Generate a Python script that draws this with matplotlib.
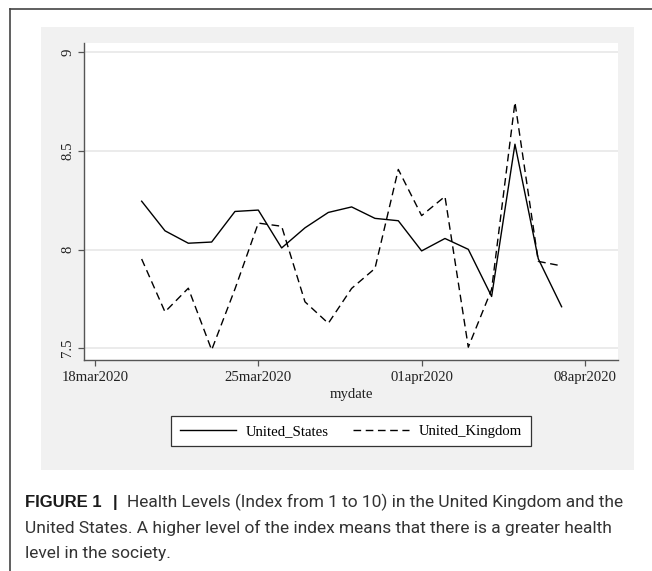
import pandas as pd
import matplotlib
matplotlib.use('Agg')
import matplotlib.pyplot as plt
from matplotlib.patches import Rectangle
from matplotlib.lines import Line2D

# --- Data ---
dates = ['2020-03-20', '2020-03-21', '2020-03-22', '2020-03-23', '2020-03-24',
         '2020-03-25', '2020-03-26', '2020-03-27', '2020-03-28', '2020-03-29',
         '2020-03-30', '2020-03-31', '2020-04-01', '2020-04-02', '2020-04-03',
         '2020-04-04', '2020-04-05', '2020-04-06', '2020-04-07']
united_states = [8.245, 8.095, 8.032, 8.038, 8.193, 8.200, 8.008, 8.110, 8.188, 8.216,
                 8.158, 8.146, 7.993, 8.056, 8.001, 7.762, 8.534, 7.953, 7.710]
united_kingdom = [7.952, 7.684, 7.804, 7.491, 7.800, 8.134, 8.118, 7.735, 7.626, 7.803,
                  7.904, 8.406, 8.172, 8.269, 7.505, 7.798, 8.746, 7.940, 7.917]

x_ticks = ['2020-03-18', '2020-03-25', '2020-04-01', '2020-04-08']
x_tick_labels = ['18mar2020', '25mar2020', '01apr2020', '08apr2020']
y_ticks = [7.5, 8, 8.5, 9]
y_tick_labels = ['7.5', '8', '8.5', '9']

caption_bold = 'FIGURE 1'
caption_bar = '|'
caption_1 = 'Health Levels (Index from 1 to 10) in the United Kingdom and the'
caption_2 = 'United States. A higher level of the index means that there is a greater health'
caption_3 = 'level in the society.'

# --- Figure geometry (pixels) ---
W, H = 652, 571
fig = plt.figure(figsize=(W / 100, H / 100), dpi=100)
fig.patch.set_facecolor('white')

def fx(px):
    return px / W

def fy(py):
    return 1 - py / H

# outer frame: top and left lines only
fig.add_artist(Line2D([fx(10), 1], [fy(9), fy(9)], color='#444444', lw=1.2))
fig.add_artist(Line2D([fx(10), fx(10)], [fy(9), 0], color='#444444', lw=1.2))

# Stata graph region (light gray)
fig.add_artist(Rectangle((fx(41), fy(470)), fx(634) - fx(41), fy(27) - fy(470),
                         transform=fig.transFigure, facecolor='#f1f1f1',
                         edgecolor='none', zorder=0))

left, right, top, bottom = 84, 618, 43, 360
ax = fig.add_axes([fx(left), fy(bottom), fx(right) - fx(left), fy(top) - fy(bottom)])
ax.set_facecolor('white')

x = pd.to_datetime(dates)
ax.plot(x, united_states, color='black', lw=1.0, label='United_States', zorder=3)
ax.plot(x, united_kingdom, color='black', lw=1.0, dashes=(5.5, 3.3),
        label='United_Kingdom', zorder=3)

start = pd.Timestamp('2020-03-18')
ax.set_xlim(start - pd.Timedelta(hours=11.3), start + pd.Timedelta(hours=538))
ax.set_ylim(7.44, 9.047)

ax.set_xticks(pd.to_datetime(x_ticks))
ax.set_xticklabels(x_tick_labels)
ax.set_yticks(y_ticks)
ax.set_yticklabels(y_tick_labels, rotation=90, va='center')

serif = 'Liberation Serif'
fs = 10.6
for lab in ax.get_xticklabels() + ax.get_yticklabels():
    lab.set_fontfamily(serif)
    lab.set_fontsize(fs)
    lab.set_color('#222222')

ax.tick_params(axis='both', length=4, width=0.9, color='#555555')
ax.tick_params(axis='x', pad=4)
ax.tick_params(axis='y', pad=3)

for side in ['top', 'right']:
    ax.spines[side].set_visible(False)
for side in ['left', 'bottom']:
    ax.spines[side].set_color('#555555')
    ax.spines[side].set_linewidth(1.0)

ax.grid(axis='y', color='#ebebeb', lw=1.4)
ax.set_axisbelow(True)

ax.set_xlabel('mydate', fontfamily=serif, fontsize=fs, color='#222222', labelpad=3)

leg = ax.legend(loc='center', bbox_to_anchor=(fx(351), fy(431)),
                bbox_transform=fig.transFigure, ncol=2, frameon=True,
                fancybox=False, edgecolor='#333333', facecolor='white',
                prop={'family': serif, 'size': fs}, handlelength=3.8,
                handletextpad=0.7, columnspacing=1.6, borderpad=0.6)
leg.get_frame().set_linewidth(0.9)
leg.get_frame().set_alpha(1)

# --- Caption ---
cap_font = 'Roboto'
cap_size = 12.5
fig.text(fx(25), fy(507), caption_bold, fontfamily='Liberation Sans', fontsize=12,
         fontweight='bold', color='#1a1a1a', va='baseline', ha='left')
fig.text(fx(113), fy(507), caption_bar, fontfamily='Liberation Sans', fontsize=12,
         fontweight='bold', color='#1a1a1a', va='baseline', ha='left')
fig.text(fx(127), fy(507), caption_1, fontfamily=cap_font, fontsize=cap_size,
         color='#333333', va='baseline', ha='left')
fig.text(fx(25), fy(533), caption_2, fontfamily=cap_font, fontsize=cap_size,
         color='#333333', va='baseline', ha='left')
fig.text(fx(25), fy(558), caption_3, fontfamily=cap_font, fontsize=cap_size,
         color='#333333', va='baseline', ha='left')

fig.savefig('out.png', dpi=100, facecolor='white')
